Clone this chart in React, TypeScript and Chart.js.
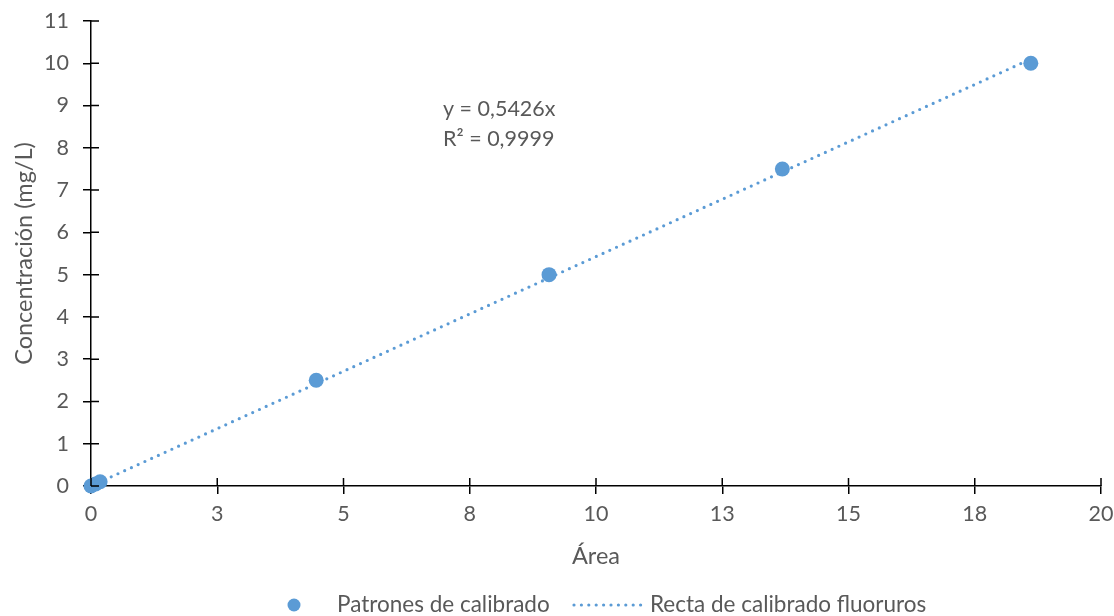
import { useEffect, useRef } from "react";
import { Chart, registerables } from "chart.js";

Chart.register(...registerables);

// ---- Data ----
const areaValues = [0, 0.09, 0.18, 4.46, 9.07, 13.69, 18.61];
const concentrationValues = [0, 0.05, 0.1, 2.5, 5, 7.5, 10];
const trendAreas = [0, 18.61];
const trendConcentrations = [0, 10.1];
const seriesNames = ["Patrones de calibrado", "Recta de calibrado fluoruros"];
const equationLines = ["y = 0,5426x", "R² = 0,9999"];
const xAxisTitle = "Área";
const yAxisTitle = "Concentración (mg/L)";

const TEXT = "#595959";
const BLUE = "#5B9BD5";
const FONT = "Lato, 'Open Sans', sans-serif";

const crossTicksPlugin = {
  id: "crossTicks",
  afterDraw(chart: any) {
    const ctx = chart.ctx;
    const xs = chart.scales.x;
    const ys = chart.scales.y;
    const ca = chart.chartArea;
    ctx.save();
    ctx.strokeStyle = "#000";
    ctx.lineWidth = 1.5;
    ctx.beginPath();
    xs.ticks.forEach((t: any) => {
      const px = xs.getPixelForValue(t.value);
      ctx.moveTo(px, ca.bottom);
      ctx.lineTo(px, ca.bottom - 8);
    });
    ys.ticks.forEach((t: any) => {
      const py = ys.getPixelForValue(t.value);
      ctx.moveTo(ca.left, py);
      ctx.lineTo(ca.left + 8, py);
    });
    ctx.stroke();
    ctx.restore();
  },
};

const annotationPlugin = {
  id: "annotationText",
  afterDraw(chart: any) {
    const ctx = chart.ctx;
    const ca = chart.chartArea;
    ctx.save();
    ctx.fillStyle = TEXT;
    ctx.font = `21.5px ${FONT}`;
    ctx.textAlign = "left";
    ctx.textBaseline = "middle";
    equationLines.forEach((line, i) => {
      ctx.fillText(line, ca.left + 352, ca.top + 88 + i * 30);
    });
    ctx.restore();
  },
};

const legendPlugin = {
  id: "customLegend",
  afterDraw(chart: any) {
    const ctx = chart.ctx;
    const y = 605;
    ctx.save();
    ctx.font = `22.5px ${FONT}`;
    ctx.fillStyle = TEXT;
    ctx.textBaseline = "middle";
    ctx.textAlign = "left";
    ctx.beginPath();
    ctx.fillStyle = BLUE;
    ctx.arc(294, y, 6.5, 0, Math.PI * 2);
    ctx.fill();
    ctx.fillStyle = TEXT;
    ctx.fillText(seriesNames[0], 337, y);
    ctx.strokeStyle = BLUE;
    ctx.lineWidth = 3.2;
    ctx.lineCap = "round";
    ctx.setLineDash([0, 7.4]);
    ctx.beginPath();
    ctx.moveTo(574, y);
    ctx.lineTo(645, y);
    ctx.stroke();
    ctx.setLineDash([]);
    ctx.fillText(seriesNames[1], 650, y);
    ctx.restore();
  },
};

export default function App() {
  const canvasRef = useRef<HTMLCanvasElement | null>(null);

  useEffect(() => {
    document.body.style.margin = "0";
    const canvas = canvasRef.current;
    if (!canvas) return;
    const chart = new Chart(canvas, {
      type: "scatter",
      data: {
        datasets: [
          {
            label: seriesNames[0],
            data: areaValues.map((x, i) => ({ x, y: concentrationValues[i] })),
            backgroundColor: BLUE,
            borderColor: BLUE,
            pointRadius: 7.5,
            pointBorderWidth: 0,
            showLine: false,
            clip: false,
          },
          {
            label: seriesNames[1],
            data: trendAreas.map((x, i) => ({ x, y: trendConcentrations[i] })),
            showLine: true,
            borderColor: BLUE,
            borderWidth: 3.2,
            borderDash: [0, 7.4],
            borderCapStyle: "round",
            pointRadius: 0,
            clip: false,
          } as any,
        ],
      },
      options: {
        responsive: false,
        animation: false,
        layout: { padding: { top: 21, right: 13, bottom: 40, left: 0 } },
        plugins: {
          legend: { display: false },
          tooltip: { enabled: false },
        },
        scales: {
          x: {
            type: "linear",
            min: 0,
            max: 20,
            afterFit: (scale: any) => {
              scale.height = 90;
              scale.paddingLeft = 0;
              scale.paddingRight = 0;
            },
            ticks: {
              stepSize: 2.5,
              color: TEXT,
              font: { family: FONT, size: 21.5 },
              padding: 7,
              maxRotation: 0,
              callback: (v: any) => String(Math.round(Number(v))),
            },
            grid: {
              display: true,
              drawOnChartArea: false,
              drawTicks: true,
              tickLength: 8,
              color: "#000",
              lineWidth: 1.5,
            },
            border: { display: true, color: "#000", width: 1.5 },
            title: {
              display: true,
              text: xAxisTitle,
              color: TEXT,
              font: { family: FONT, size: 23.5 },
              padding: { top: 0, bottom: 5 },
            },
          },
          y: {
            type: "linear",
            min: 0,
            max: 11,
            afterFit: (scale: any) => {
              scale.width = 91;
              scale.paddingTop = 0;
              scale.paddingBottom = 0;
            },
            ticks: {
              stepSize: 1,
              color: TEXT,
              font: { family: FONT, size: 21.5 },
              padding: 14,
            },
            grid: {
              display: true,
              drawOnChartArea: false,
              drawTicks: true,
              tickLength: 8,
              color: "#000",
              lineWidth: 1.5,
            },
            border: { display: true, color: "#000", width: 1.5 },
            title: {
              display: true,
              text: yAxisTitle,
              color: TEXT,
              font: { family: FONT, size: 23.5 },
              padding: { top: 10, bottom: 0 },
            },
          },
        },
      },
      plugins: [crossTicksPlugin, annotationPlugin, legendPlugin],
    });
    return () => chart.destroy();
  }, []);

  return (
    <div style={{ width: 1114, height: 616 }}>
      <canvas ref={canvasRef} width={1114} height={616} />
    </div>
  );
}
